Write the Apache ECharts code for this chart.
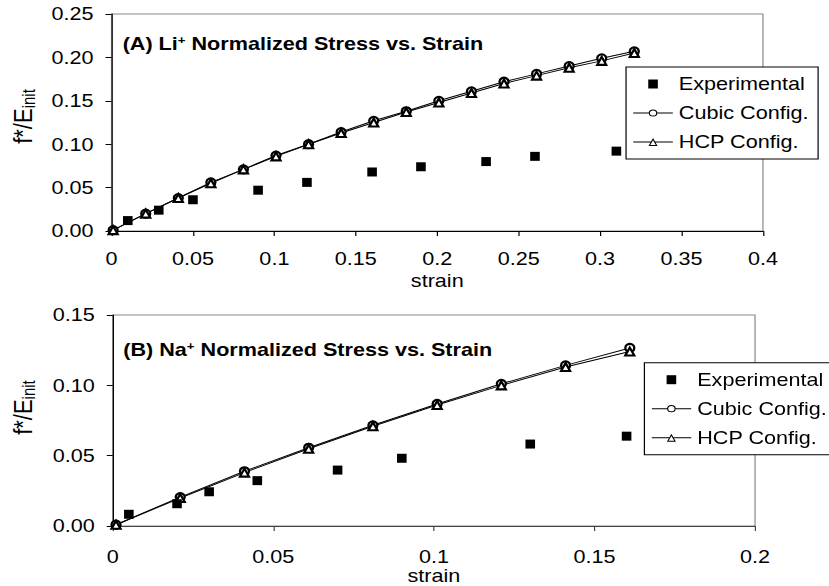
<!DOCTYPE html>
<html>
<head>
<meta charset="utf-8">
<script src="https://cdn.jsdelivr.net/npm/echarts@6/dist/echarts.min.js"></script>
<style>
html,body{margin:0;padding:0;background:#fff;overflow:hidden;}
#chart{position:absolute;left:0;top:0;height:586px;transform-origin:0 0;}
</style>
</head>
<body>
<div id="chart"></div>
<script>
// ---- Data (A) Li+ ----
const strainExpA = [0.01, 0.029, 0.05, 0.09, 0.12, 0.16, 0.19, 0.23, 0.26, 0.31];
const stressExpA = [0.012, 0.024, 0.036, 0.047, 0.056, 0.068, 0.074, 0.080, 0.086, 0.092];
const strainModelA = [0.001, 0.021, 0.041, 0.061, 0.081, 0.101, 0.121, 0.141, 0.161, 0.181, 0.201, 0.221, 0.241, 0.261, 0.281, 0.301, 0.321];
const cubicA = [0.001, 0.020, 0.038, 0.056, 0.071, 0.087, 0.100, 0.114, 0.127, 0.138, 0.150, 0.161, 0.172, 0.181, 0.190, 0.199, 0.207];
const hcpA   = [0.001, 0.020, 0.038, 0.055, 0.071, 0.086, 0.100, 0.113, 0.125, 0.137, 0.148, 0.159, 0.170, 0.179, 0.188, 0.196, 0.205];
// ---- Data (B) Na+ ----
const strainExpB = [0.005, 0.02, 0.03, 0.045, 0.07, 0.09, 0.13, 0.16];
const stressExpB = [0.0084, 0.0159, 0.0244, 0.0323, 0.0398, 0.0482, 0.0583, 0.0639];
const strainModelB = [0.001, 0.021, 0.041, 0.061, 0.081, 0.101, 0.121, 0.141, 0.161];
const cubicB = [0.001, 0.0206, 0.039, 0.0557, 0.0716, 0.0868, 0.1011, 0.1142, 0.1266];
const hcpB   = [0.001, 0.020, 0.038, 0.055, 0.071, 0.086, 0.100, 0.113, 0.124];
// ---- Labels ----
const seriesNames = ['Experimental', 'Cubic Config.', 'HCP Config.'];
const titleA = '(A) Li{sup|+} Normalized Stress vs. Strain';
const titleB = '(B) Na{sup|+} Normalized Stress vs. Strain';
const xName = 'strain';
const yName = 'f*/E{sub|init}';

const S = 1.2;
const W = 829 / S;
const el = document.getElementById('chart');
el.style.width = W + 'px';
el.style.transform = 'scaleX(' + S + ')';

const FONT = 'Liberation Sans, Arial, sans-serif';
const pairs = (xs, ys) => xs.map((x, i) => [x, ys[i]]);

// legend icons (33 x 10 box)
const ICON_SQUARE = 'path://M0,0 M33,10 M12.5,0.5 L20.5,0.5 L20.5,9.5 L12.5,9.5 Z';
const ICON_CIRCLE = 'path://M0,0 M33,10 M0,4.5 L12.9,4.5 L12.9,5.5 L0,5.5 Z M20.1,4.5 L33,4.5 L33,5.5 L20.1,5.5 Z ' +
  'M12.9,5 A3.6,3.6 0 1,1 20.1,5 A3.6,3.6 0 1,1 12.9,5 Z M13.9,5 A2.6,2.6 0 1,0 19.1,5 A2.6,2.6 0 1,0 13.9,5 Z';
const ICON_TRI = 'path://M0,0 M33,10 M0,4.5 L14.8,4.5 L14.8,5.5 L0,5.5 Z M18.2,4.5 L33,4.5 L33,5.5 L18.2,5.5 Z ' +
  'M16.5,1 L20.25,9 L12.75,9 Z M16.5,3.2 L14.2,8 L18.8,8 Z';
const legendIcons = [ICON_SQUARE, ICON_CIRCLE, ICON_TRI];

function xAxis(gi, max, nameGap, margin, lineColor) {
  return {
    type: 'value', gridIndex: gi, min: 0, max: max, interval: 0.05,
    name: xName, nameLocation: 'middle', nameGap: nameGap,
    nameTextStyle: {fontSize: 18, color: '#000', fontFamily: FONT},
    axisLine: {show: true, lineStyle: {color: lineColor, width: 1}},
    axisTick: {show: true, inside: false, length: 5, lineStyle: {color: lineColor}},
    axisLabel: {fontSize: 18, color: '#000', fontFamily: FONT, margin: margin},
    splitLine: {show: false}
  };
}
function yAxis(gi, max, nameGap, pad) {
  return {
    type: 'value', gridIndex: gi, min: 0, max: max, interval: 0.05,
    name: yName, nameLocation: 'middle', nameGap: nameGap,
    nameTextStyle: {fontSize: 22, color: '#000', fontFamily: FONT, padding: [0, 0, 0, pad],
      rich: {sub: {fontSize: 15, color: '#000', fontFamily: FONT, padding: [11, 0, 0, 0], verticalAlign: 'bottom'}}},
    axisLine: {show: true, lineStyle: {color: '#000', width: 1}},
    axisTick: {show: true, inside: false, length: 5, lineStyle: {color: '#000'}},
    axisLabel: {fontSize: 18, color: '#000', fontFamily: FONT, margin: 15, formatter: v => v.toFixed(2)},
    splitLine: {show: false}
  };
}
function legend(left, top) {
  return {
    data: seriesNames.map((n, i) => ({name: n, icon: legendIcons[i], itemStyle: {color: '#000', borderWidth: 0}})),
    orient: 'vertical', left: left, top: top,
    itemWidth: 33, itemHeight: 10, itemGap: 11, padding: [8, 8, 8, 6],
    borderColor: '#000', borderWidth: 1, backgroundColor: '#fff',
    selectedMode: false,
    textStyle: {fontSize: 18, color: '#000', fontFamily: FONT}
  };
}
function series(gi, xs, ys, cx, cy, hy) {
  return [
    {name: seriesNames[0], type: 'scatter', xAxisIndex: gi, yAxisIndex: gi, data: pairs(xs, ys),
     symbol: 'rect', symbolSize: [8, 9], itemStyle: {color: '#000', opacity: 1}, z: 3},
    {name: seriesNames[1], type: 'line', xAxisIndex: gi, yAxisIndex: gi, data: pairs(cx, cy),
     symbol: 'emptyCircle', symbolSize: [7.5, 8], itemStyle: {color: '#000', borderWidth: 1},
     lineStyle: {color: '#000', width: 1}, z: 2},
    {name: seriesNames[2], type: 'line', xAxisIndex: gi, yAxisIndex: gi, data: pairs(cx, hy),
     symbol: 'emptyTriangle', symbolSize: [7.5, 8], itemStyle: {color: '#000', borderWidth: 1},
     lineStyle: {color: '#000', width: 1}, z: 2}
  ];
}

const chart = echarts.init(el, null, {renderer: 'svg', width: W, height: 586});
const titleStyle = {fontSize: 18, fontWeight: 'bold', color: '#000', fontFamily: FONT,
  rich: {sup: {fontSize: 11, fontWeight: 'bold', color: '#000', fontFamily: FONT, verticalAlign: 'top'}}};
chart.setOption({
  animation: false,
  backgroundColor: '#fff',
  title: [
    {text: titleA, left: 102.2, top: 35, padding: 0, textStyle: titleStyle},
    {text: titleB, left: 102.7, top: 341, padding: 0, textStyle: titleStyle}
  ],
  legend: [legend(521.7, 67), legend(537, 362.7)],
  grid: [
    {left: 87.5, top: 14, width: 548.3, height: 217, show: true, borderColor: '#888', borderWidth: 1, backgroundColor: 'transparent'},
    {left: 92.2, top: 315, width: 537, height: 213.7, show: true, borderColor: '#888', borderWidth: 1, backgroundColor: 'transparent'}
  ],
  xAxis: [xAxis(0, 0.4, 41, 19, '#000'), xAxis(1, 0.2, 35, 22, '#444')],
  yAxis: [yAxis(0, 0.25, 58, 12), yAxis(1, 0.15, 62, 26)],
  series: [].concat(
    series(0, strainExpA, stressExpA, strainModelA, cubicA, hcpA),
    series(1, strainExpB, stressExpB, strainModelB, cubicB, hcpB)
  )
});
</script>
</body>
</html>
